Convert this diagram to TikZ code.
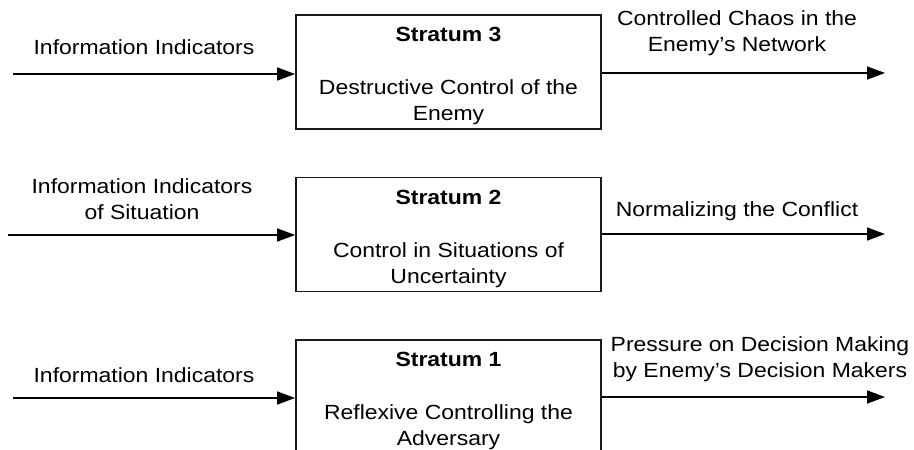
\documentclass[tikz,border=0pt]{standalone}
\usepackage{fontspec}
\setmainfont[FakeStretch=1.12]{Liberation Sans}
\usetikzlibrary{arrows.meta}
\begin{document}
\begin{tikzpicture}[x=1pt,y=-1pt,
  stratbox/.style={draw=black!90, line width=1.8pt, minimum width=305pt, minimum height=114pt, inner sep=0pt},
  lbl/.style={align=center, inner sep=0pt, font=\fontsize{20.5}{26}\selectfont},
  conn/.style={line width=1.5pt, -{Triangle[length=18pt,width=13pt]}}]
\useasboundingbox (0,0) rectangle (914,450);
\clip (0,0) rectangle (914,450);

\node[stratbox] (box3) at (448.5,72) {};
\node[stratbox] (box2) at (448.5,234.5) {};
\node[stratbox] (box1) at (448.5,397) {};

\node[lbl] (t3) at ([yshift=-4pt]box3.center) {\textbf{Stratum 3}\\[27pt]Destructive Control of the\\Enemy};
\node[lbl] (t2) at ([yshift=-4pt]box2.center) {\textbf{Stratum 2}\\[27pt]Control in Situations of\\Uncertainty};
\node[lbl] (t1) at ([yshift=-4pt]box1.center) {\textbf{Stratum 1}\\[27pt]Reflexive Controlling the\\Adversary};

\node[lbl] (l3) at (144,47) {Information Indicators};
\node[lbl] (l2) at (142,199) {Information Indicators\\of Situation};
\node[lbl] (l1) at (144,375) {Information Indicators};

\node[lbl] (r3) at (737,33) {Controlled Chaos in the\\Enemy’s Network};
\node[lbl] (r2) at (737,211) {Normalizing the Conflict};
\node[lbl] (r1) at (760,359) {Pressure on Decision Making\\by Enemy’s Decision Makers};

\coordinate (s3) at (13,74);
\coordinate (s2) at (8,235);
\coordinate (s1) at (13,398);
\coordinate (e3) at (885,73);
\coordinate (e2) at (885,234);
\coordinate (e1) at (885,397);

\draw[conn] (s3) -- (box3.west |- s3);
\draw[conn] (s2) -- (box2.west |- s2);
\draw[conn] (s1) -- (box1.west |- s1);
\draw[conn] (box3.east |- e3) -- (e3);
\draw[conn] (box2.east |- e2) -- (e2);
\draw[conn] (box1.east |- e1) -- (e1);
\end{tikzpicture}
\end{document}
